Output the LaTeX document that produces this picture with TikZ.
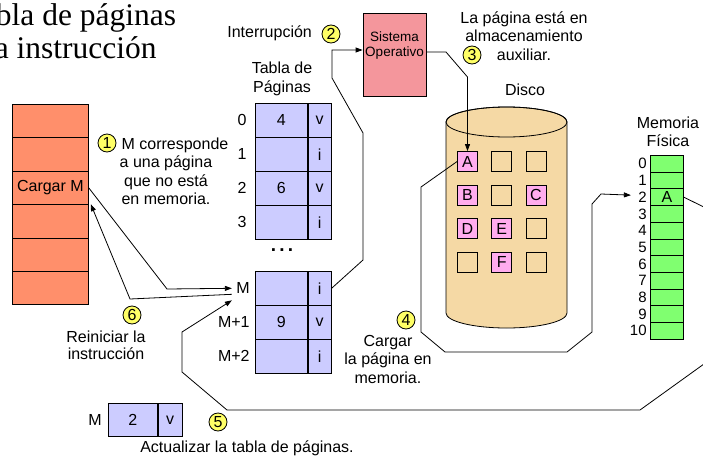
\documentclass[tikz,border=0pt]{standalone}
\usepackage{fontspec}
\setmainfont{Liberation Sans}
\newfontfamily\titlefont{Liberation Serif}
\usetikzlibrary{arrows.meta,positioning}
\definecolor{progfill}{RGB}{255,143,107}
\definecolor{tablefill}{RGB}{204,204,255}
\definecolor{osfill}{RGB}{244,150,156}
\definecolor{diskfill}{RGB}{245,217,165}
\definecolor{pagefill}{RGB}{255,172,238}
\definecolor{memfill}{RGB}{128,255,112}
\definecolor{stepfill}{RGB}{255,255,102}
\begin{document}
\begin{tikzpicture}[x=1pt, y=-1pt, line width=0.8pt,
    font=\fontsize{16}{18.5}\selectfont,
    arrowstyle/.style={draw, -{Triangle[length=7pt, width=5pt]}},
    progrow/.style={rectangle, draw, fill=progfill, minimum width=76pt,
        minimum height=33.4pt, inner sep=0pt, anchor=north west},
    framecell/.style={rectangle, draw, fill=tablefill, minimum width=52pt,
        minimum height=33.8pt, inner sep=0pt, anchor=north west},
    bitcell/.style={framecell, minimum width=23pt},
    pagefull/.style={rectangle, draw, fill=pagefill, minimum size=20pt, inner sep=0pt},
    pageempty/.style={rectangle, draw, minimum size=20pt, inner sep=0pt},
    memrow/.style={rectangle, draw, fill=memfill, minimum width=33pt,
        minimum height=16.7pt, inner sep=0pt, anchor=north west},
    stepmark/.style={circle, draw, fill=stepfill, minimum size=18pt, inner sep=0pt},
    note/.style={align=center, inner sep=0pt},
    rowlabel/.style={anchor=east, inner sep=0pt}
]
\useasboundingbox (0,0) rectangle (703,455);
\clip (0,0) rectangle (703,455);

\node (Title1) [anchor=base west, inner sep=0pt,
    font={\titlefont\fontsize{31.5}{33}\selectfont}] at (-4.5,25) {bla de páginas};
\node (Title2) [anchor=base east, inner sep=0pt,
    font={\titlefont\fontsize{31.5}{33}\selectfont}] at (157,58) {la instrucción};

\foreach \pi/\pt in {1/{},2/{},3/{Cargar M},4/{},5/{},6/{}}
  \node (Prog\pi) [progrow] at (12,{104+(\pi-1)*33.4}) {\pt};

\node (TablaTitle) [note] at (282,79) {Tabla de\\Páginas};
\foreach \pr/\pf/\pv in {0/4/v,1//i,2/6/v,3//i} {
  \node (Frame\pr) [framecell] at (255,{103+\pr*34}) {\pf};
  \node (Valid\pr) [bitcell] at (Frame\pr.north east) {\pv};
  \node (Label\pr) [rowlabel] at ([xshift=-8pt]Frame\pr.west) {\pr};
}
\node (Dots) [font={\fontsize{19}{19}\bfseries}] at (282,250) {.\,.\,.};
\foreach \pr/\pl/\pf/\pv in {0/M/{}/i,1/M+1/9/v,2/M+2/{}/i} {
  \node (FrameM\pr) [framecell] at (255,{271+\pr*34}) {\pf};
  \node (ValidM\pr) [bitcell] at (FrameM\pr.north east) {\pv};
  \node (LabelM\pr) [rowlabel] at ([xshift=-5pt]FrameM\pr.west) {\pl};
}

\node (FrameNew) [framecell, minimum width=49pt, minimum height=33pt] at (108,403) {2};
\node (ValidNew) [bitcell, minimum width=24pt, minimum height=33pt] at (FrameNew.north east) {v};
\node (LabelNew) [rowlabel] at ([xshift=-6pt]FrameNew.west) {M};
\node (Actualizar) [note] at (247,448) {Actualizar la tabla de páginas.};

\node (Sistema) [rectangle, draw, fill=osfill, minimum width=63pt,
    minimum height=83pt] at (394.5,54.5) {};
\node (SistemaText) [note, font=\fontsize{13.5}{15}\selectfont] at (394.5,46) {Sistema\\Operativo};
\node (Interrupcion) [anchor=west, inner sep=0pt] at (227,33) {Interrupción};

\node (DiscoLabel) [note] at (525,90) {Disco};
\filldraw[fill=diskfill] (446,122) -- (446,313)
  arc[start angle=180, end angle=360, x radius=60.5pt, y radius=15pt] -- (567,122)
  arc[start angle=0, end angle=180, x radius=60.5pt, y radius=15pt] -- cycle;
\draw (506.5,122) ellipse [x radius=60.5pt, y radius=15pt];
\foreach \br/\bc/\bt/\bs in {1/1/A/pagefull, 1/2//pageempty, 1/3//pageempty,
    2/1/B/pagefull, 2/2//pageempty, 2/3/C/pagefull, 3/1/D/pagefull, 3/2/E/pagefull,
    3/3//pageempty, 4/1//pageempty, 4/2/F/pagefull, 4/3//pageempty}
  \node (Bloque\br\bc) [\bs] at ({467.5+(\bc-1)*34.25},{161.5+(\br-1)*33.5}) {\bt};

\node (MemTitle) [note] at (668,132) {Memoria\\Física};
\foreach \mi in {0,...,10} {
  \node (Mem\mi) [memrow] at (650,{155+\mi*16.7}) {\ifnum\mi=2 A\fi};
  \node (MemLabel\mi) [rowlabel, font=\fontsize{15}{15}\selectfont]
    at ([xshift=-3pt]Mem\mi.west) {\mi};
}

\node (Nota1) [note] at (166,171.5) {\hspace*{18pt}M corresponde\\a una página\\que no está\\en memoria.};
\node (Nota3) [note] at (524,36) {La página está en\\almacenamiento\\auxiliar.};
\node (Nota4) [note] at (388,359) {Cargar\\la página en\\memoria.};
\node (Nota6) [note, font=\fontsize{16}{17}\selectfont] at (106,345) {Reiniciar la\\instrucción};

\foreach \st/\sx/\sy in {1/107/143, 2/331/34, 3/472/55, 4/406/320, 5/218/422, 6/132/315}
  \node (Step\st) [stepmark] at (\sx,\sy) {\st};

\draw[arrowstyle] (Prog3.east) -- (167,289) -- ([xshift=-4pt]LabelM0.west);
\draw[arrowstyle] ([xshift=-4pt,yshift=-6pt]LabelM0.west) -- (130,299)
  -- ([xshift=2pt]Prog4.north east);
\draw[arrowstyle] (ValidM0.east) -- (363,260) -- (363,133) -- (332,78) -- (332,50)
  -- ([yshift=4.5pt]Sistema.west);
\draw[arrowstyle] ([yshift=2.5pt]Sistema.east) -- (446,52) -- (467.5,77) -- (Bloque11.north);
\draw[arrowstyle] (Bloque11.west) -- (421,187) -- (421,332) -- (445,352) -- (567,352)
  -- (592,332) -- (592,204) -- (601,194) -- ([xshift=-7pt,yshift=2pt]MemLabel2.west);
\draw[arrowstyle] (Mem2.east) -- (722,216) -- (722,351) -- (640,410) -- (227,410)
  -- (182,372) -- (182,332) -- ([xshift=-4pt,yshift=-12pt]LabelM0.west);

\end{tikzpicture}
\end{document}
